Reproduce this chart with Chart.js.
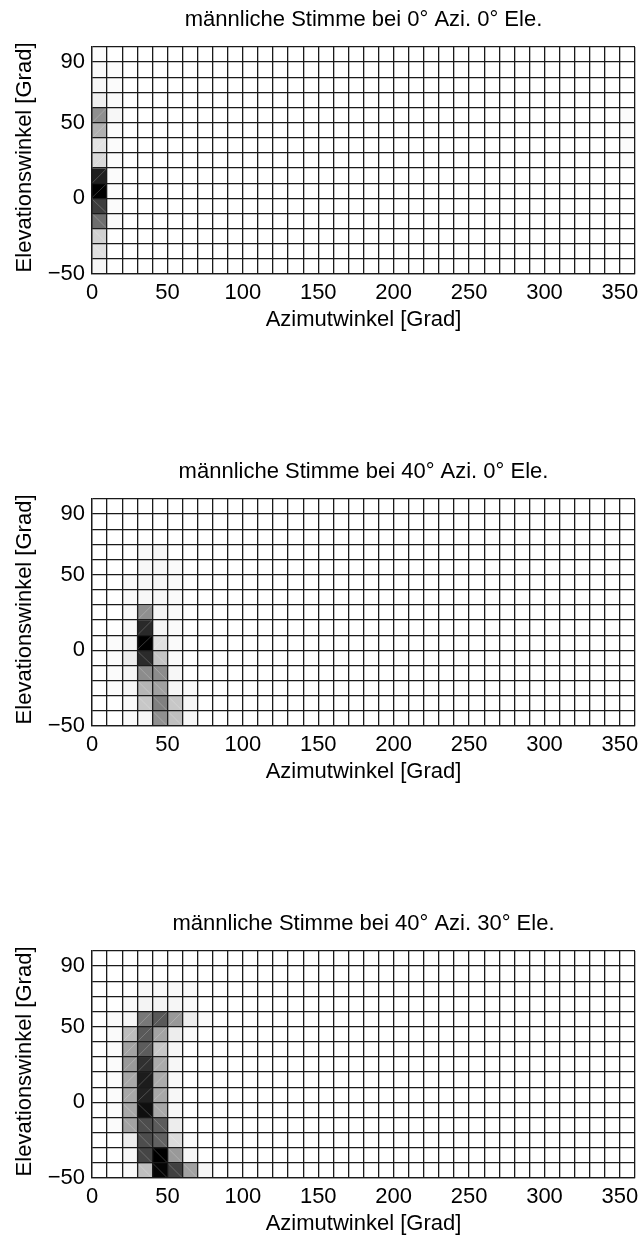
<!DOCTYPE html>
<html>
<head>
<meta charset="utf-8">
<script src="https://cdn.jsdelivr.net/npm/chart.js@4.4.1/dist/chart.umd.min.js"></script>
<style>
  html, body { margin: 0; padding: 0; background: #fff; }
  body { position: relative; width: 643px; height: 1237px; overflow: hidden; }
  canvas { position: absolute; left: 0; }
</style>
</head>
<body>
<canvas id="chart1" width="643" height="333" style="top:0px"></canvas>
<canvas id="chart2" width="643" height="333" style="top:452px"></canvas>
<canvas id="chart3" width="643" height="333" style="top:904px"></canvas>
<script>
"use strict";

// bin starts (10 degree cells)
const azimuthBins = [0, 10, 20, 30, 40, 50, 60, 70, 80, 90, 100, 110, 120, 130, 140, 150, 160, 170,
  180, 190, 200, 210, 220, 230, 240, 250, 260, 270, 280, 290, 300, 310, 320, 330, 340, 350];
const elevationBins = [-50, -40, -30, -20, -10, 0, 10, 20, 30, 40, 50, 60, 70, 80, 90];

const xTickLabels = [0, 50, 100, 150, 200, 250, 300, 350];
const yTickLabels = [-50, 0, 50, 90];

const titles = [
  "männliche Stimme bei 0° Azi. 0° Ele.",
  "männliche Stimme bei 40° Azi. 0° Ele.",
  "männliche Stimme bei 40° Azi. 30° Ele.",
];

// [azimuth, elevation, darkness 0..1]; cells not listed are white
const cells0Azi0Ele = [
  [0, 90, 0.01], [0, 80, 0.02], [0, 70, 0.03], [0, 60, 0.06], [0, 50, 0.44], [0, 40, 0.31],
  [0, 30, 0.11], [0, 20, 0.15], [0, 10, 0.88], [0, 0, 1.0], [0, -10, 0.76], [0, -20, 0.57],
  [0, -30, 0.18], [0, -40, 0.12], [0, -50, 0.03],
  [10, 80, 0.015], [10, 70, 0.015], [10, 60, 0.02], [10, 50, 0.03], [10, 40, 0.015],
  [10, 30, 0.015], [10, 20, 0.015], [10, 10, 0.015], [10, 0, 0.015], [10, -10, 0.015],
  [10, -20, 0.02],
  [350, 50, 0.015], [350, 40, 0.015], [350, 30, 0.015], [350, 20, 0.015],
];

const cells40Azi0Ele = [
  [10, 0, 0.015], [10, -10, 0.015], [10, -20, 0.015], [10, -30, 0.015],
  [20, 40, 0.02], [20, 30, 0.02], [20, 20, 0.025], [20, 10, 0.025], [20, 0, 0.045],
  [20, -10, 0.07], [20, -20, 0.035], [20, -30, 0.035], [20, -40, 0.02], [20, -50, 0.02],
  [30, 60, 0.02], [30, 50, 0.03], [30, 40, 0.03], [30, 30, 0.03], [30, 20, 0.44],
  [30, 10, 0.84], [30, 0, 1.0], [30, -10, 0.83], [30, -20, 0.45], [30, -30, 0.29],
  [30, -40, 0.22], [30, -50, 0.035],
  [40, 60, 0.03], [40, 50, 0.03], [40, 40, 0.03], [40, 30, 0.03], [40, 20, 0.04],
  [40, 10, 0.04], [40, 0, 0.12], [40, -10, 0.23], [40, -20, 0.45], [40, -30, 0.37],
  [40, -40, 0.5], [40, -50, 0.44],
  [50, 50, 0.02], [50, 40, 0.02], [50, 30, 0.02], [50, 20, 0.02], [50, 10, 0.02],
  [50, 0, 0.02], [50, -10, 0.02], [50, -20, 0.03], [50, -30, 0.035], [50, -40, 0.22],
  [50, -50, 0.25],
  [60, -30, 0.02], [60, -40, 0.04], [60, -50, 0.035],
];

const cells40Azi30Ele = [
  [10, 50, 0.02], [10, 40, 0.02], [10, 30, 0.015], [10, 20, 0.015], [10, 10, 0.015],
  [10, 0, 0.015], [10, -10, 0.015], [10, -20, 0.015],
  [20, 60, 0.02], [20, 50, 0.03], [20, 40, 0.26], [20, 30, 0.36], [20, 20, 0.40],
  [20, 10, 0.34], [20, 0, 0.34], [20, -10, 0.34], [20, -20, 0.36], [20, -30, 0.07],
  [20, -40, 0.03], [20, -50, 0.02],
  [30, 70, 0.025], [30, 60, 0.045], [30, 50, 0.53], [30, 40, 0.65], [30, 30, 0.64],
  [30, 20, 0.81], [30, 10, 0.89], [30, 0, 0.87], [30, -10, 0.94], [30, -20, 0.70],
  [30, -30, 0.70], [30, -40, 0.73], [30, -50, 0.25],
  [40, 70, 0.025], [40, 60, 0.045], [40, 50, 0.65], [40, 40, 0.36], [40, 30, 0.22],
  [40, 20, 0.33], [40, 10, 0.33], [40, 0, 0.34], [40, -10, 0.34], [40, -20, 0.64],
  [40, -30, 0.62], [40, -40, 1.0], [40, -50, 0.98],
  [50, 70, 0.025], [50, 60, 0.035], [50, 50, 0.40], [50, 40, 0.07], [50, 30, 0.035],
  [50, 20, 0.03], [50, 10, 0.03], [50, 0, 0.03], [50, -10, 0.03], [50, -20, 0.07],
  [50, -30, 0.14], [50, -40, 0.40], [50, -50, 0.75],
  [60, 70, 0.02], [60, 60, 0.02], [60, 50, 0.07], [60, 40, 0.02], [60, -30, 0.02],
  [60, -40, 0.035], [60, -50, 0.37],
  [70, 50, 0.02], [70, -50, 0.035],
];

const fontFamily = '"Liberation Sans", Arial, Helvetica, sans-serif';
Chart.defaults.font.family = fontFamily;
Chart.defaults.font.size = 22;
Chart.defaults.color = "#000";

function gray(d) {
  const g = Math.round(255 * (1 - d));
  return "rgb(" + g + "," + g + "," + g + ")";
}

function buildCells(list) {
  const data = [];
  elevationBins.forEach((el) => {
    azimuthBins.forEach((az) => {
      const hit = list.find((c) => c[0] === az && c[1] === el);
      data.push({ x: az + 5, y: [el, el + 10], level: hit ? hit[2] : 0 });
    });
  });
  return data;
}

function fmt(v) {
  return v < 0 ? "\u2212" + Math.abs(v) : String(v);
}

// faint diagonal seams like the triangulated surface in the original
const cellDiagonals = {
  id: "cellDiagonals",
  afterDatasetsDraw(chart) {
    const ctx = chart.ctx;
    const meta = chart.getDatasetMeta(0);
    const data = chart.data.datasets[0].data;
    ctx.save();
    ctx.strokeStyle = "rgba(255,255,255,0.3)";
    ctx.lineWidth = 0.7;
    meta.data.forEach((bar, i) => {
      if (data[i].level < 0.1) return;
      const p = bar.getProps(["x", "y", "base", "width"], true);
      ctx.beginPath();
      ctx.moveTo(p.x - p.width / 2, p.base);
      ctx.lineTo(p.x + p.width / 2, p.y);
      ctx.stroke();
    });
    ctx.restore();
  },
};

function makeChart(id, title, cells) {
  const ctx = document.getElementById(id).getContext("2d");
  return new Chart(ctx, {
    type: "bar",
    data: {
      datasets: [
        {
          data: buildCells(cells),
          backgroundColor: (c) => gray(c.raw ? c.raw.level : 0),
          borderWidth: 0,
          barPercentage: 1,
          categoryPercentage: 1,
        },
      ],
    },
    options: {
      responsive: false,
      animation: false,
      events: [],
      layout: { padding: { left: 0, right: 8, top: 0, bottom: 0 } },
      plugins: {
        legend: { display: false },
        tooltip: { enabled: false },
        title: {
          display: true,
          text: title,
          fullSize: false,
          color: "#000",
          font: { size: 22, weight: "normal" },
          padding: { top: 7, bottom: 13.6 },
        },
      },
      scales: {
        x: {
          type: "linear",
          min: 0,
          max: 360,
          offset: false,
          afterFit: (scale) => { scale.height = 59; },
          ticks: {
            stepSize: 10,
            autoSkip: false,
            maxRotation: 0,
            padding: 6,
            callback: (v) => (xTickLabels.includes(v) ? fmt(v) : ""),
          },
          grid: { color: "#1a1a1a", lineWidth: 1.3, drawTicks: false, offset: false, z: 1 },
          border: { color: "#1a1a1a", width: 1.3, z: 1 },
          title: {
            display: true,
            text: "Azimutwinkel [Grad]",
            font: { size: 22 },
            padding: { top: 0, bottom: 0 },
          },
        },
        y: {
          type: "linear",
          min: -50,
          max: 100,
          afterFit: (scale) => { scale.width = 92; },
          ticks: {
            stepSize: 10,
            autoSkip: false,
            padding: 7,
            callback: (v) => (yTickLabels.includes(v) ? fmt(v) : ""),
          },
          grid: { color: "#1a1a1a", lineWidth: 1.3, drawTicks: false, z: 1 },
          border: { color: "#1a1a1a", width: 1.3, z: 1 },
          title: {
            display: true,
            text: " Elevationswinkel [Grad]",
            font: { size: 22 },
            padding: { top: 12, bottom: 0 },
          },
        },
      },
    },
    plugins: [cellDiagonals],
  });
}

makeChart("chart1", titles[0], cells0Azi0Ele);
makeChart("chart2", titles[1], cells40Azi0Ele);
makeChart("chart3", titles[2], cells40Azi30Ele);
</script>
</body>
</html>
